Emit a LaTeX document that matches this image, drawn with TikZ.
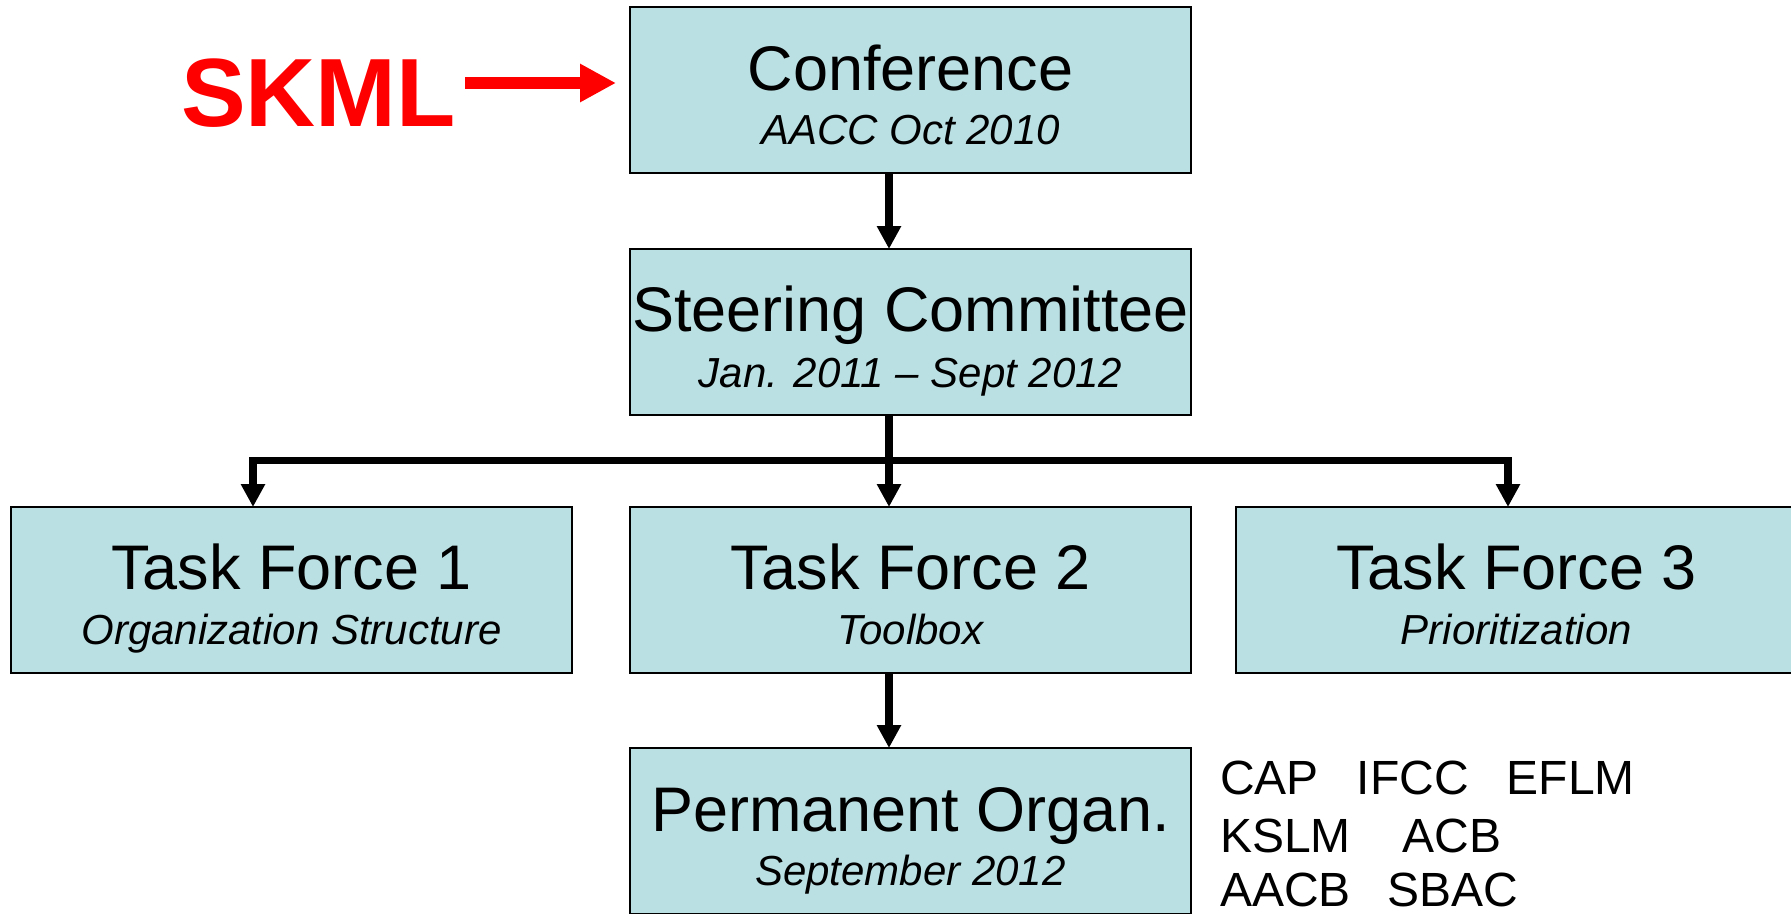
\documentclass[tikz,border=0pt]{standalone}
\usepackage{fontspec}
\setmainfont{Liberation Sans}
\usetikzlibrary{arrows.meta}
\definecolor{boxfill}{HTML}{BBE0E3}
\definecolor{skmlred}{HTML}{FF0000}
\begin{document}
\begin{tikzpicture}[x=1pt,y=-1pt,
  box/.style={draw=black,line width=1.5pt,fill=boxfill,minimum width=561pt,minimum height=166pt,inner sep=0pt,outer sep=0pt,anchor=north west},
  ttl/.style={anchor=base,inner sep=0pt,font=\fontsize{63}{63}\selectfont},
  sub/.style={anchor=base,inner sep=0pt,font=\fontsize{42}{42}\selectfont\itshape},
  orgtxt/.style={anchor=base west,inner sep=0pt,font=\fontsize{48}{48}\selectfont},
  conn/.style={line width=7.5pt,-{Triangle[width=23pt,length=23pt]}},
  bar/.style={line width=7.5pt},
  redarrow/.style={draw=skmlred,line width=12pt,-{Triangle[width=36pt,length=36pt]}}
]
\useasboundingbox (0,0) rectangle (1791,913);

% boxes
\node[box] (conf)  at (630,7) {};
\node[box] (steer) at (630,249) {};
\node[box] (tf1)   at (11,507) {};
\node[box] (tf2)   at (630,507) {};
\node[box] (tf3)   at (1236,507) {};
\node[box] (perm)  at (630,748) {};

% texts
\node[ttl] (conft)  at ([yshift=-83pt]conf.north) {Conference};
\node[sub] (confs)  at ([yshift=-137pt]conf.north) {AACC Oct 2010};
\node[ttl] (steert) at ([yshift=-82pt]steer.north) {Steering Committee};
\node[sub] (steers) at ([yshift=-138pt]steer.north) {Jan. 2011 – Sept 2012};
\node[ttl] (tf1t)   at ([yshift=-82pt]tf1.north) {Task Force 1};
\node[sub] (tf1s)   at ([yshift=-137pt]tf1.north) {Organization Structure};
\node[ttl] (tf2t)   at ([yshift=-82pt]tf2.north) {Task Force 2};
\node[sub] (tf2s)   at ([yshift=-137pt]tf2.north) {Toolbox};
\node[ttl] (tf3t)   at ([yshift=-82pt]tf3.north) {Task Force 3};
\node[sub] (tf3s)   at ([yshift=-137pt]tf3.north) {Prioritization};
\node[ttl] (permt)  at ([yshift=-83pt]perm.north) {Permanent Organ.};
\node[sub] (perms)  at ([yshift=-137pt]perm.north) {September 2012};

% SKML
\node[anchor=base west,inner sep=0pt,text=skmlred,font=\fontsize{97}{97}\selectfont\bfseries] (skml) at (181,126) {SKML};
\coordinate (reds) at (465,83);
\coordinate (redtip) at (616,83);
\draw[redarrow] (reds) -- (redtip);

% organisations
\node[orgtxt] (org1) at (1220,794) {CAP\hspace{38pt}IFCC\hspace{38pt}EFLM};
\node[orgtxt] (org2) at (1220,852) {KSLM\hspace{52pt}ACB};
\node[orgtxt] (org3) at (1220,906) {AACB\hspace{37pt}SBAC};

% connectors
\coordinate (cx) at (889,0);
\coordinate (l1) at (253,0);
\coordinate (l3) at (1508,0);
\coordinate (bary) at (0,460.5);
\draw[conn] (conf.south -| cx) -- (steer.north -| cx);
\draw[bar] (steer.south -| cx) -- (cx |- bary);
\draw[conn] (cx |- bary) -| (tf1.north -| l1);
\draw[conn] (cx |- bary) -| (tf3.north -| l3);
\draw[conn] (cx |- bary) -- (tf2.north -| cx);
\draw[conn] (tf2.south -| cx) -- (perm.north -| cx);
\end{tikzpicture}
\end{document}
